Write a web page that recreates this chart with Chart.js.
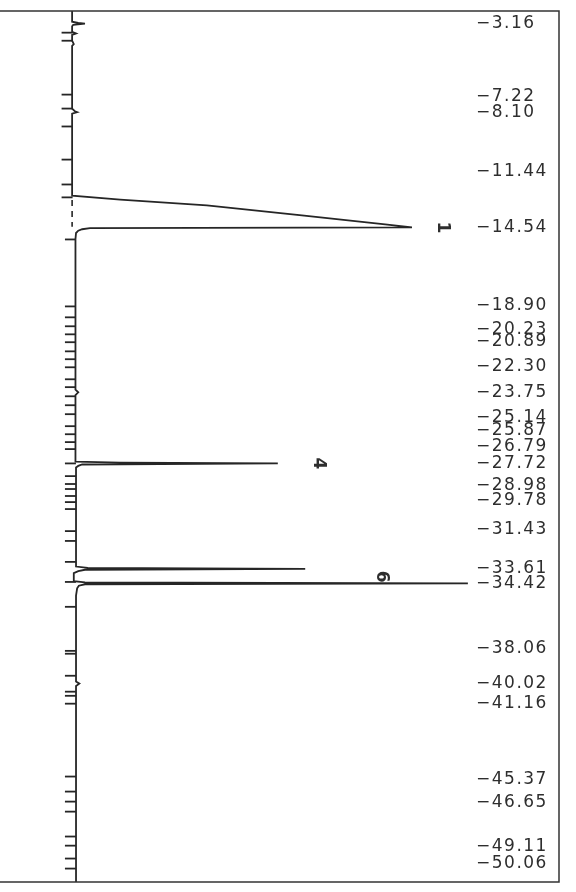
<!DOCTYPE html>
<html>
<head>
<meta charset="utf-8">
<script src="https://cdn.jsdelivr.net/npm/chart.js@4/dist/chart.umd.min.js"></script>
<style>
  html, body { margin: 0; padding: 0; background: #fff; overflow: hidden; }
  #wrap { width: 576px; height: 892px; position: relative; }
</style>
</head>
<body>
<div id="wrap"><canvas id="chrom"></canvas></div>
<script>
// Chromatogram, printed sideways: retention time runs down, detector signal to the right

// detector trace (time in min, signal in % of full scale)
const traceTime = [2.45, 3.05, 3.12, 3.16, 3.22, 3.30, 3.62, 3.70, 3.78, 4.10, 4.30, 4.40,
  7.90, 8.05, 8.10, 8.18, 12.76, 12.98, 13.31, 13.87, 14.37, 14.54, 14.58, 14.64, 14.72,
  14.85, 15.20, 23.60, 23.75, 23.90, 27.62, 27.68, 27.72, 27.78, 27.86, 27.95, 33.48,
  33.56, 33.61, 33.66, 33.74, 33.85, 34.30, 34.36, 34.42, 34.47, 34.55, 34.70, 35.10,
  39.90, 40.02, 40.15, 51.10];
const traceSignal = [12.9, 12.9, 14.0, 15.2, 13.1, 12.9, 12.9, 13.6, 12.9, 12.9, 13.2, 12.9,
  12.9, 13.4, 13.8, 12.9, 12.9, 21.5, 37.0, 54.0, 68.9, 73.7, 16.1, 14.7, 14.0,
  13.6, 13.5, 13.5, 14.0, 13.5, 13.5, 21.5, 49.7, 14.7, 14.0, 13.6, 13.6,
  15.7, 54.6, 15.2, 14.0, 13.2, 13.2, 15.2, 83.7, 15.2, 14.1, 13.8, 13.6,
  13.6, 14.2, 13.6, 13.6];

// dotted baseline under the solvent peak
const dashTime = [13.0, 14.5];
const dashSignal = [12.9, 12.9];

// integration event marks on the left of the baseline
const markTime = [3.66, 4.11, 7.12, 7.90, 8.90, 10.75, 12.14, 12.86, 15.21,
  18.95, 19.56, 20.06, 20.51, 20.95, 21.46, 21.90, 22.35, 23.02, 23.46, 23.97, 24.47,
  24.97, 25.64, 26.09, 26.53, 26.92, 27.72, 28.43, 28.87, 29.15, 29.54, 29.88, 30.27,
  31.50, 32.05, 33.22, 34.34, 35.73, 38.19, 38.35, 39.58, 40.47, 40.70, 41.14, 45.21,
  46.05, 46.61, 47.17, 48.56, 49.07, 49.79, 50.35];

// retention times printed on the right
const retTimes = [3.16, 7.22, 8.10, 11.44, 14.54, 18.90, 20.23, 20.89, 22.30, 23.75,
  25.14, 25.87, 26.79, 27.72, 28.98, 29.78, 31.43, 33.61, 34.42, 38.06, 40.02, 41.16,
  45.37, 46.65, 49.11, 50.06];

// peak numbers
const peakNames = ['1', '4', '6'];
const peakTime = [14.54, 27.72, 34.05];
const peakSignal = [79.2, 56.9, 68.2];

const ink = '#262626';
const plotFont = "'DejaVu Sans', sans-serif";

const framePlugin = {
  id: 'frame',
  afterDraw(chart) {
    const ctx = chart.ctx;
    const a = chart.chartArea;
    ctx.save();
    ctx.strokeStyle = '#333';
    ctx.lineWidth = 1.5;
    ctx.beginPath();
    ctx.moveTo(0, a.top);
    ctx.lineTo(a.right, a.top);
    ctx.lineTo(a.right, a.bottom);
    ctx.lineTo(0, a.bottom);
    ctx.stroke();
    ctx.restore();
  }
};

const textPlugin = {
  id: 'texts',
  afterDatasetsDraw(chart) {
    const ctx = chart.ctx;
    const xs = chart.scales.x;
    const ys = chart.scales.y;
    ctx.save();
    ctx.fillStyle = '#2e2e2e';
    ctx.font = '17px ' + plotFont;
    ctx.letterSpacing = '1.5px';
    ctx.textBaseline = 'middle';
    ctx.textAlign = 'left';
    retTimes.forEach(t => {
      ctx.fillText('\u2212' + t.toFixed(2), chart.chartArea.right - 83, ys.getPixelForValue(t));
    });
    ctx.letterSpacing = '0px';
    ctx.font = 'bold 17px ' + plotFont;
    ctx.textAlign = 'center';
    peakNames.forEach((n, i) => {
      ctx.save();
      ctx.translate(xs.getPixelForValue(peakSignal[i]), ys.getPixelForValue(peakTime[i]));
      ctx.rotate(Math.PI / 2);
      ctx.fillText(n, 0, 0);
      ctx.restore();
    });
    ctx.restore();
  }
};

new Chart(document.getElementById('chrom'), {
  type: 'scatter',
  data: {
    datasets: [
      {
        label: 'signal',
        data: traceTime.map((t, i) => ({ x: traceSignal[i], y: t })),
        showLine: true,
        borderColor: ink,
        borderWidth: 1.8,
        pointRadius: 0,
        tension: 0
      },
      {
        label: 'baseline',
        data: dashTime.map((t, i) => ({ x: dashSignal[i], y: t })),
        showLine: true,
        borderColor: ink,
        borderWidth: 1.6,
        borderDash: [6, 5],
        pointRadius: 0
      },
      {
        label: 'marks',
        data: markTime.map(t => ({ x: t < 14.6 ? 12.0 : 12.6, y: t })),
        pointStyle: 'line',
        pointRadius: 5.5,
        borderColor: ink,
        borderWidth: 1.8,
        showLine: false
      }
    ]
  },
  options: {
    responsive: true,
    maintainAspectRatio: false,
    animation: false,
    layout: { autoPadding: false, padding: { left: 0, right: 17, top: 11, bottom: 10 } },
    plugins: {
      legend: { display: false },
      tooltip: { enabled: false }
    },
    scales: {
      x: { type: 'linear', min: 0, max: 100, display: false },
      y: { type: 'linear', min: 2.45, max: 51.1, reverse: true, display: false }
    }
  },
  plugins: [framePlugin, textPlugin]
});
</script>
</body>
</html>
